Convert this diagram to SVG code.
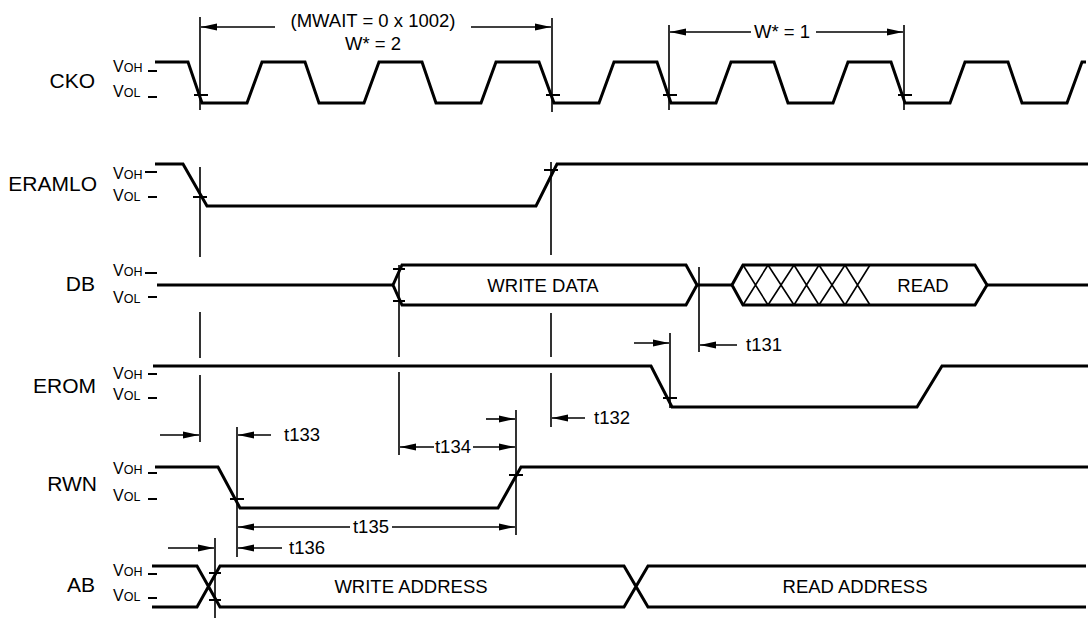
<svg xmlns="http://www.w3.org/2000/svg" width="1088" height="618" viewBox="0 0 1088 618">
<defs>
<marker id="ah" markerUnits="userSpaceOnUse" markerWidth="16" markerHeight="8" viewBox="0 0 16 8" refX="16" refY="4" orient="auto"><path d="M0,0.5 L16,4 L0,7.5 Z" fill="#000"/></marker>
<style>
.sig{fill:none;stroke:#000;stroke-width:3;stroke-linejoin:miter}
.dim{fill:none;stroke:#000;stroke-width:1.6}
.arr{fill:none;stroke:#000;stroke-width:1.6;marker-end:url(#ah)}
.tk{fill:none;stroke:#000;stroke-width:2}
.lab{font-family:"Liberation Sans",Arial,sans-serif;font-size:21px;fill:#000}
.txt{font-family:"Liberation Sans",Arial,sans-serif;font-size:18.5px;fill:#000}
.v{font-family:"Liberation Sans",Arial,sans-serif;font-size:16px;fill:#000}
.s{font-size:12.5px}
</style>
</defs>
<rect width="1088" height="618" fill="#fff"/>

<g id="CKO">
<text class="lab" x="95" y="88" text-anchor="end">CKO</text>
<text class="v" x="113" y="72">V<tspan class="s">OH</tspan></text>
<text class="v" x="113" y="97">V<tspan class="s">OL</tspan></text>
<path class="tk" d="M148,71 H157 M148,97 H157"/>
<path class="sig" d="M155,62 H188 L202,103 H247 L262,62 H305 L319,103 H364 L379,62 H422 L436,103 H481 L496,62 H539 L554,103 H599 L614,62 H657 L671,103 H716 L731,62 H774 L788,103 H833 L848,62 H891 L905,103 H950 L965,62 H1008 L1022,103 H1067 L1082,62 H1086"/>
</g>

<g id="ERAMLO">
<text class="lab" x="97" y="191" text-anchor="end">ERAMLO</text>
<text class="v" x="113" y="179">V<tspan class="s">OH</tspan></text>
<text class="v" x="113" y="201">V<tspan class="s">OL</tspan></text>
<path class="tk" d="M145,172 H157 M148,197 H157"/>
<path class="sig" d="M155,164 H183 L207,206 H536 L557,164 H1088"/>
</g>

<g id="DB">
<text class="lab" x="95" y="291" text-anchor="end">DB</text>
<text class="v" x="113" y="276">V<tspan class="s">OH</tspan></text>
<text class="v" x="113" y="303">V<tspan class="s">OL</tspan></text>
<path class="tk" d="M145,273 H157 M148,297 H157"/>
<path class="sig" d="M157,285 H393"/>
<path class="sig" d="M393,285 L402,265 H686 L697,285 L686,305 H402 Z"/>
<text class="txt" x="543" y="292" text-anchor="middle">WRITE DATA</text>
<path class="sig" d="M697,285 H732"/>
<path class="sig" d="M732,285 L743,265 H975 L987,285 L975,305 H743 Z"/>
<path class="dim" d="M743,265 L768,305 M743,305 L768,265 M768,265 L794,305 M768,305 L794,265 M794,265 L819,305 M794,305 L819,265 M819,265 L845,305 M819,305 L845,265 M845,265 L870,305 M845,305 L870,265"/>
<text class="txt" x="923" y="292" text-anchor="middle">READ</text>
<path class="sig" d="M987,285 H1088"/>
</g>

<g id="EROM">
<text class="lab" x="96" y="393" text-anchor="end">EROM</text>
<text class="v" x="113" y="379">V<tspan class="s">OH</tspan></text>
<text class="v" x="113" y="400">V<tspan class="s">OL</tspan></text>
<path class="tk" d="M148,374 H157 M148,398 H157"/>
<path class="sig" d="M153,366 H651 L672,407 H917 L942,366 H1088"/>
</g>

<g id="RWN">
<text class="lab" x="97" y="491" text-anchor="end">RWN</text>
<text class="v" x="113" y="474">V<tspan class="s">OH</tspan></text>
<text class="v" x="113" y="501">V<tspan class="s">OL</tspan></text>
<path class="tk" d="M148,473 H157 M148,499 H157"/>
<path class="sig" d="M155,467 H218 L240,508 H498 L521,467 H1088"/>
</g>

<g id="AB">
<text class="lab" x="95" y="592" text-anchor="end">AB</text>
<text class="v" x="113" y="576">V<tspan class="s">OH</tspan></text>
<text class="v" x="113" y="601">V<tspan class="s">OL</tspan></text>
<path class="tk" d="M148,574 H157 M148,598 H157"/>
<path class="sig" d="M152,566 H197 L220,607 H624 L648,566 H1086 M152,607 H197 L220,566 H624 L648,607 H1086"/>
<text class="txt" x="411" y="593" text-anchor="middle">WRITE ADDRESS</text>
<text class="txt" x="855" y="593" text-anchor="middle">READ ADDRESS</text>
</g>

<g id="connectors">
<path class="dim" d="M200,17 V110 M200,167 V257 M200,312 V358 M200,375 V442"/>
<path class="dim" d="M552,18 V112 M551,162 V255 M551,313 V357 M551,373 V427"/>
<path class="dim" d="M669,25 V110 M904,25 V110"/>
<path class="dim" d="M399,265 V357 M399,372 V455"/>
<path class="dim" d="M699,267 V352 M670,333 V408"/>
<path class="dim" d="M237,427 V557 M516,410 V535 M215,538 V618"/>
<path class="tk" d="M194,95 H208 M546,95 H560 M663,95 H677 M898,95 H912"/>
<path class="tk" d="M193,197 H207 M544,170 H558"/>
<path class="tk" d="M393,269 H405 M393,301 H405"/>
<path class="tk" d="M663,398 H677"/>
<path class="tk" d="M230,499 H244 M509,475 H523"/>
<path class="tk" d="M209,573 H221 M209,600 H221"/>
<path class="arr" d="M275,27 H201"/>
<path class="arr" d="M471,27 H551"/>
<text class="txt" x="373" y="27" text-anchor="middle">(MWAIT = 0 x 1002)</text>
<text class="txt" x="373" y="50" text-anchor="middle">W* = 2</text>
<path class="arr" d="M751,32 H670"/>
<path class="arr" d="M816,32 H903"/>
<text class="txt" x="782" y="38" text-anchor="middle">W* = 1</text>
<path class="arr" d="M737,345 H700"/>
<text class="txt" x="746" y="351">t131</text>
<path class="arr" d="M634,343 H669"/>
<path class="arr" d="M585,418 H552"/>
<text class="txt" x="594" y="424">t132</text>
<path class="arr" d="M160,435 H199"/>
<path class="arr" d="M271,435 H238"/>
<text class="txt" x="284" y="441">t133</text>
<path class="arr" d="M486,419 H515"/>
<path class="arr" d="M434,447 H400"/>
<path class="arr" d="M473,447 H515"/>
<text class="txt" x="453" y="453" text-anchor="middle">t134</text>
<path class="arr" d="M350,527 H238"/>
<path class="arr" d="M392,527 H515"/>
<text class="txt" x="371" y="533" text-anchor="middle">t135</text>
<path class="arr" d="M282,548 H238"/>
<text class="txt" x="289" y="554">t136</text>
<path class="arr" d="M168,548 H214"/>
</g>
</svg>
